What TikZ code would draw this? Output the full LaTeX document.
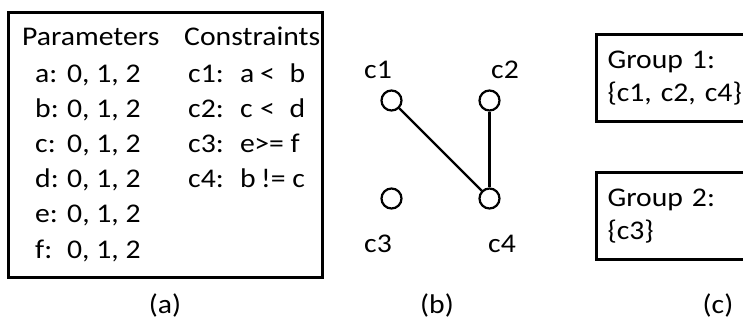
\documentclass[tikz,border=0pt]{standalone}
\usepackage{fontspec}
\setmainfont{Carlito}[FakeStretch=1.1]
\usetikzlibrary{positioning}
\definecolor{inkC}{HTML}{000000}
\tikzset{
  txt/.style={anchor=base west, inner sep=0pt, font=\fontsize{27}{33}\selectfont, text=inkC},
  lbl/.style={anchor=base, inner sep=0pt, font=\fontsize{27}{33}\selectfont, text=inkC},
  frame/.style={draw=inkC, line width=3pt},
  grp/.style={frame, rectangle, anchor=north west, align=left, text width=145pt, inner xsep=11pt,
              minimum height=87pt, font=\fontsize{27}{33}\selectfont},
  vert/.style={circle, draw=inkC, line width=2.2pt, minimum size=20pt, inner sep=0pt, fill=white},
  link/.style={draw=inkC, line width=2.4pt},
}
\newcommand\prm[1]{\makebox[32pt][l]{#1:}0, 1, 2}
\newcommand\cons[5]{\makebox[52pt][l]{#1:}\makebox[#5pt][l]{#2}#3 #4}

\begin{document}
\begin{tikzpicture}[x=1pt, y=-1pt]
\useasboundingbox (0,0) rectangle (743,325);
\draw[frame] (8,12) rectangle (322,277);
\node[txt] (phead) at (22,45) {Parameters};
\node[txt] (chead) at (184,45) {Constraints};
\node[txt] (pa) at (35,82) {\prm{a}};
\node[txt] (pb) at (35,117) {\prm{b}};
\node[txt] (pc) at (35,152) {\prm{c}};
\node[txt] (pd) at (35,187) {\prm{d}};
\node[txt] (pe) at (35,222) {\prm{e}};
\node[txt] (pf) at (35,258) {\prm{f}};
\node[txt] (k1) at (188,82) {\cons{c1}{a}{<\hspace{8pt}}{b}{20}};
\node[txt] (k2) at (188,117) {\cons{c2}{c}{<\hspace{8pt}}{d}{20}};
\node[txt] (k3) at (188,152) {\cons{c3}{e}{>=}{f}{14}};
\node[txt] (k4) at (188,187) {\cons{c4}{b}{!=}{c}{21}};
\node[vert] (c1) at (391.5,100.5) {};
\node[vert] (c2) at (489.5,100.5) {};
\node[vert] (c3) at (391.5,198.5) {};
\node[vert] (c4) at (489.5,198.5) {};
\node[lbl] (lc1) at (378,78) {c1};
\node[lbl] (lc2) at (505,78) {c2};
\node[lbl] (lc3) at (378,252) {c3};
\node[lbl] (lc4) at (502,252) {c4};
\draw[link] (c1) -- (c4);
\draw[link] (c2) -- (c4);
\node[grp] (g1) at (595,33) {Group 1:\\\{c1, c2, c4\}};
\node[grp] (g2) at (595,171) {Group 2:\\\{c3\}};
\node[lbl] (capa) at (165,313) {(a)};
\node[lbl] (capb) at (437,313) {(b)};
\node[lbl] (capc) at (718,313) {(c)};
\end{tikzpicture}
\end{document}
